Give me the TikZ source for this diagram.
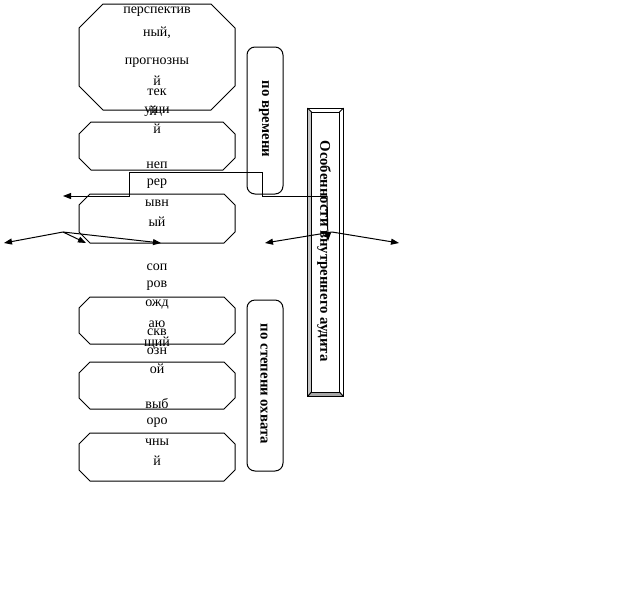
\documentclass[tikz,border=0pt]{standalone}
\usepackage{fontspec}
\setmainfont{Liberation Serif}
\usetikzlibrary{arrows.meta}
\tikzset{
  ln/.style={line width=1pt,black},
  arr/.style={ln,-{Triangle[length=8pt,width=6pt]}},
  txt/.style={inner sep=0pt,font=\fontsize{14}{14}\selectfont},
  vtxt/.style={inner sep=0pt,rotate=-90,font=\bfseries\fontsize{14.8}{14.8}\selectfont},
  rbox/.style={ln,rounded corners=8pt},
}
\newcommand\octpath[5]{% x1 y1 x2 y2 c
  \draw[ln] ({#1+#5},#2) -- ({#3-#5},#2) -- (#3,{#2+#5}) -- (#3,{#4-#5}) -- ({#3-#5},#4)
   -- ({#1+#5},#4) -- (#1,{#4-#5}) -- (#1,{#2+#5}) -- cycle;}
\begin{document}
\begin{tikzpicture}[x=1pt,y=-1pt]
\useasboundingbox (0,0) rectangle (632,590);
\fill[white] (0,0) rectangle (632,590);
% octagon boxes
\octpath{79}{4}{235}{110}{24}
\octpath{79}{122}{235}{170}{12}
\octpath{79}{194}{235}{243}{11}
\octpath{79}{297}{235}{344}{11}
\octpath{79}{362}{235}{409}{11}
\octpath{79}{433}{235}{481}{11}
% rounded boxes
\draw[rbox] (247,47) rectangle (283,194);
\draw[rbox] (247,300) rectangle (283,471);
\node[vtxt] (vr) at (264,119) {по времени};
\node[vtxt] (so) at (264,384) {по степени охвата};
% main bevel box
\fill[white] (307.5,108) rectangle (343.5,396.5);
\fill[gray!45] (307.5,108) -- (311.5,112) -- (311.5,392) -- (307.5,396.5) -- cycle;
\fill[gray!70] (307.5,396.5) -- (311.5,392) -- (339.5,392) -- (343.5,396.5) -- cycle;
\draw[ln] (307.5,108) rectangle (343.5,396.5);
\draw[ln] (311.5,112) rectangle (339.5,392);
\draw[ln] (307.5,108) -- (311.5,112) (343.5,108) -- (339.5,112)
          (307.5,396.5) -- (311.5,392) (343.5,396.5) -- (339.5,392);
\node[vtxt] (main) at (324,251) {Особенности внутреннего аудита};
% texts
\node[txt] (a1) at (157,11.5) {перспектив};
\node[txt] (a2) at (157,33) {ный,};
\node[txt] (a3) at (157,63) {прогнозны};
\node[txt] (a4) at (157,81) {й};
\node[txt] (b1) at (157,92) {тек};
\node[txt] (b2) at (157,112) {ущи};
\node[txt] (b2x) at (153,111) {й};
\node[txt] (b3) at (157,129) {й};
\node[txt] (c1) at (157,165) {неп};
\node[txt] (c2) at (157,184) {рер};
\node[txt] (c3) at (157,203) {ывн};
\node[txt] (c4) at (157,222) {ый};
\node[txt] (d1) at (157,267) {соп};
\node[txt] (d2) at (157,286) {ров};
\node[txt] (d3) at (157,305) {ожд};
\node[txt] (d4) at (157,324) {аю};
\node[txt] (d5) at (157,343) {щий};
\node[txt] (e1) at (157,332) {скв};
\node[txt] (e2) at (157,351) {озн};
\node[txt] (e3) at (157,369) {ой};
\node[txt] (f1) at (157,404) {выб};
\node[txt] (f2) at (157,423) {оро};
\node[txt] (f3) at (157,442) {чны};
\node[txt] (f4) at (157,461) {й};
% connectors
\coordinate (p0) at (327,196);
\coordinate (p1) at (262,196);
\coordinate (p2) at (262,172);
\coordinate (p3) at (129,172);
\coordinate (p4) at (129,196);
\coordinate (p5) at (63,196);
\draw[arr] (p0) -- (p1) -- (p2) -- (p3) -- (p4) -- (p5);
\coordinate (q0) at (327,196);
\coordinate (q1) at (328,241);
\draw[arr] (q0) -- (q1);
\coordinate (la) at (63,232);
\coordinate (l1) at (4,243);
\coordinate (l2) at (86,243);
\coordinate (l3) at (161,243);
\draw[arr] (la) -- (l1);
\draw[arr] (la) -- (l2);
\draw[arr] (la) -- (l3);
\coordinate (ra) at (332,232);
\coordinate (r1) at (265,243);
\coordinate (r2) at (399,243);
\draw[arr] (ra) -- (r1);
\draw[arr] (ra) -- (r2);
\end{tikzpicture}
\end{document}
